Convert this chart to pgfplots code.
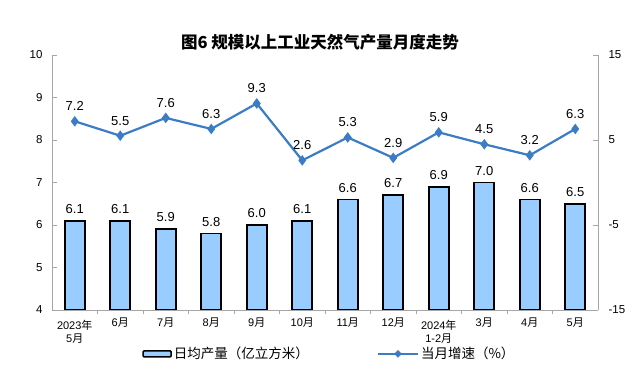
\documentclass[border=0pt]{standalone}
\usepackage{pgfplots}
\pgfplotsset{compat=1.18}
\usepackage{fontspec}
\setmainfont{Liberation Sans}
\newfontfamily\cjk{Noto Sans CJK SC}
\definecolor{barblue}{HTML}{99CCFF}
\definecolor{lineblue}{HTML}{3B7CC4}
\definecolor{axgray}{HTML}{A6A6A6}
\newcommand\yue{{\cjk 月}}
\newcommand\nian{{\cjk 年}}
\newcommand\two[2]{\begin{tabular}{@{}c@{}}#1\\[-2.5pt]#2\end{tabular}}
\begin{document}
\begin{tikzpicture}[x=1pt,y=1pt]
\path[use as bounding box] (0,0) rectangle (639,387);
\node[font=\cjk\bfseries\fontsize{16.5}{18}\selectfont] at (320,345) {图6\ 规模以上工业天然气产量月度走势};
\begin{axis}[
  at={(52pt,77pt)}, anchor=south west, scale only axis,
  width=546pt, height=255pt,
  xmin=-0.5, xmax=11.5, ymin=4, ymax=10,
  axis x line*=bottom, axis y line*=left,
  axis line style={axgray, line width=0.8pt},
  tick style={axgray, line width=0.8pt},
  tick align=inside,
  ytick={4,...,10},
  yticklabel style={font=\fontsize{11.5}{13}\selectfont, xshift=-6pt},
  /pgf/number format/assume math mode=true,
  xtick={0,...,11},
  xticklabels={{\two{2023\nian}{5\yue}},{6\yue},{7\yue},{8\yue},{9\yue},{10\yue},{11\yue},{12\yue},{\two{2024\nian}{1-2\yue}},{3\yue},{4\yue},{5\yue}},
  xticklabel style={font=\fontsize{11}{16}\selectfont, anchor=north, yshift=0.5pt},
  major x tick style={draw=none},
  minor xtick={0.5,1.5,...,10.5},
  minor tick length=4pt,
  major tick length=5pt,
  ybar, bar width=20pt,
  nodes near coords,
  nodes near coords style={font=\fontsize{13}{15}\selectfont, /pgf/number format/fixed, /pgf/number format/fixed zerofill, /pgf/number format/precision=1, yshift=3pt},
]
\addplot[fill=barblue, draw=black, line width=1.6pt] coordinates {
(0,6.1) (1,6.1) (2,5.9) (3,5.8) (4,6.0) (5,6.1) (6,6.6) (7,6.7) (8,6.9) (9,7.0) (10,6.6) (11,6.5)};
\end{axis}
\begin{axis}[
  at={(52pt,77pt)}, anchor=south west, scale only axis,
  width=546pt, height=255pt,
  xmin=-0.5, xmax=11.5, ymin=-15, ymax=15,
  axis y line*=right, axis x line=none,
  axis line style={axgray, line width=0.8pt},
  tick style={axgray, line width=0.8pt},
  tick align=inside, major tick length=5pt,
  ytick={-15,-5,5,15},
  yticklabel style={font=\fontsize{11.5}{13}\selectfont, xshift=7pt},
  /pgf/number format/assume math mode=true,
  legend style={draw=none, fill=none, inner sep=0pt, at={(0.508,-0.172)}, anchor=center, font=\cjk\fontsize{13.5}{15}\selectfont, legend columns=2, /tikz/every even column/.append style={column sep=66pt}},
]
\addlegendimage{legend image code/.code={\draw[fill=barblue, draw=black, line width=1.6pt, rounded corners=1pt] (0pt,-3pt) rectangle (28pt,3pt);}}
\addlegendentry{日均产量（亿立方米）}
\addlegendimage{legend image code/.code={\draw[lineblue, line width=2.2pt] (0pt,0pt) -- (40pt,0pt); \fill[lineblue] (20pt,3.5pt) -- (23.5pt,0pt) -- (20pt,-3.5pt) -- (16.5pt,0pt) -- cycle;}}
\addlegendentry{当月增速（\%）}
\addplot[lineblue, line width=2.2pt, mark=diamond*, mark size=3.5pt, mark options={solid},
  nodes near coords, point meta=explicit symbolic,
  nodes near coords style={black, font=\fontsize{13}{15}\selectfont, yshift=6pt}, forget plot
] coordinates {
(0,7.2) [7.2] (1,5.5) [5.5] (2,7.6) [7.6] (3,6.3) [6.3] (4,9.3) [9.3] (5,2.6) [2.6] (6,5.3) [5.3] (7,2.9) [2.9] (8,5.9) [5.9] (9,4.5) [4.5] (10,3.2) [3.2] (11,6.3) [6.3]};
\end{axis}
\end{tikzpicture}
\end{document}
